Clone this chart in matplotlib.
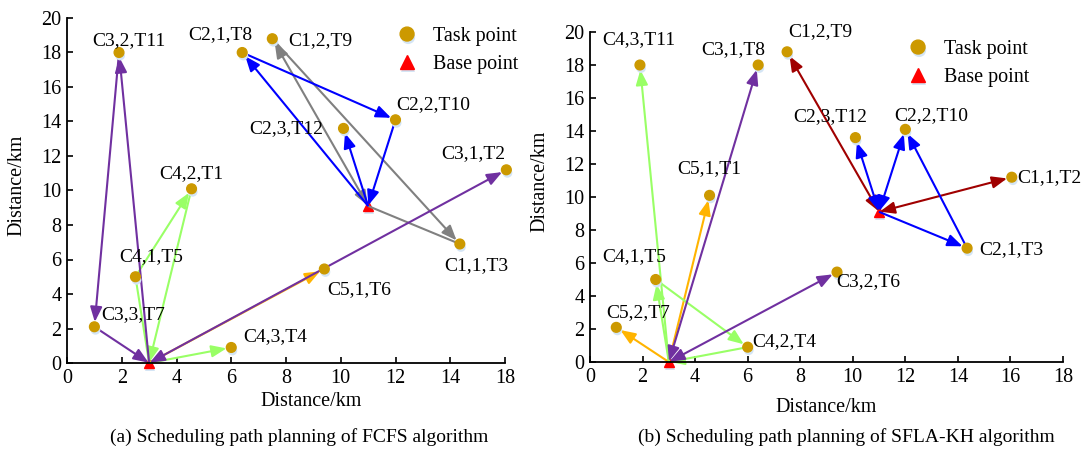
import matplotlib
matplotlib.use('Agg')
import matplotlib.pyplot as plt
import matplotlib.patheffects as pe
from matplotlib.lines import Line2D

plt.rcParams['font.family'] = ['Liberation Serif', 'DejaVu Serif']
plt.rcParams['font.size'] = 14

# ---------------- data ----------------
task_ids = ['T1', 'T2', 'T3', 'T4', 'T5', 'T6', 'T7', 'T8', 'T9', 'T10', 'T11', 'T12']
task_x = [4.55, 16.05, 14.35, 6.0, 2.5, 9.4, 1.0, 6.4, 7.5, 12.0, 1.9, 10.1]
task_y = [10.1, 11.2, 6.9, 0.9, 5.0, 5.45, 2.1, 18.0, 18.8, 14.1, 18.0, 13.6]
base_ids = ['B1', 'B2']
base_x = [3.0, 11.0]
base_y = [0.0, 9.1]

labels_fcfs = ['C4,2,T1', 'C3,1,T2', 'C1,1,T3', 'C4,3,T4', 'C4,1,T5', 'C5,1,T6',
               'C3,3,T7', 'C2,1,T8', 'C1,2,T9', 'C2,2,T10', 'C3,2,T11', 'C2,3,T12']
labels_sfla = ['C5,1,T1', 'C1,1,T2', 'C2,1,T3', 'C4,2,T4', 'C4,1,T5', 'C3,2,T6',
               'C5,2,T7', 'C3,1,T8', 'C1,2,T9', 'C2,2,T10', 'C4,3,T11', 'C2,3,T12']

# edges: (from, to, head type)  '>' one head, '<>' both heads, '-' none
routes_fcfs = {
    'C5': [('B1', 'T6', '>')],
    'C1': [('B2', 'T9', '<>'), ('T9', 'T3', '>'), ('B2', 'T3', '-')],
    'C2': [('B2', 'T8', '>'), ('T8', 'T10', '>'), ('T10', 'B2', '>'), ('B2', 'T12', '>')],
    'C4': [('T5', 'T1', '>'), ('T1', 'B1', '>'), ('B1', 'T5', '-'), ('B1', 'T4', '>')],
    'C3': [('B1', 'T2', '<>'), ('B1', 'T11', '>'), ('T11', 'T7', '>'), ('T7', 'B1', '>')],
}
routes_sfla = {
    'C1': [('B2', 'T9', '<>'), ('B2', 'T2', '<>')],
    'C2': [('B2', 'T12', '<>'), ('B2', 'T10', '<>'), ('B2', 'T3', '>'), ('T3', 'T10', '>')],
    'C5': [('B1', 'T1', '>'), ('B1', 'T7', '>')],
    'C4': [('B1', 'T11', '>'), ('B1', 'T5', '>'), ('T5', 'T4', '>'), ('T4', 'B1', '>')],
    'C3': [('B1', 'T8', '<>'), ('B1', 'T6', '<>')],
}

# ---------------- styles / layout ----------------
colors_fcfs = {'C1': '#808080', 'C2': '#0000ff', 'C3': '#7030a0', 'C4': '#99ff66', 'C5': '#ffb400'}
colors_sfla = {'C1': '#a00000', 'C2': '#0000ff', 'C3': '#7030a0', 'C4': '#99ff66', 'C5': '#ffb400'}

# label offsets (points) and alignment
off_fcfs = {'T11': (7, 8.6, 'center'), 'T8': (-16, 13, 'center'), 'T9': (11.5, -1.5, 'left'),
            'T10': (0.7, 10.8, 'left'), 'T12': (-14.4, 0, 'right'), 'T2': (-0.7, 11.5, 'right'),
            'T1': (0, 11.2, 'center'), 'T5': (11.5, 14.4, 'center'), 'T7': (4.8, 8.9, 'left'),
            'T4': (8.4, 7.9, 'left'), 'T6': (1.9, -14.9, 'left'), 'T3': (12.2, -15.6, 'center')}
off_sfla = {'T11': (-0.7, 18.5, 'center'), 'T8': (5.3, 10.8, 'right'), 'T9': (0.9, 14.9, 'left'),
            'T12': (-17.8, 14.9, 'center'), 'T10': (18.7, 9.6, 'center'), 'T2': (3.6, 0, 'left'),
            'T3': (8.9, -0.7, 'left'), 'T6': (-0.9, -6.5, 'left'), 'T1': (0, 19.2, 'center'),
            'T5': (-15.5, 16.3, 'center'), 'T7': (15.8, 10.6, 'center'), 'T4': (3.3, 4.3, 'left')}

W, H = 1086, 450
fig = plt.figure(figsize=(W / 100, H / 100), dpi=100)
axL = fig.add_axes([67 / W, 1 - 363 / H, 438 / W, 345 / H])
axR = fig.add_axes([590 / W, 1 - 362 / H, 473 / W, 330 / H])

shadow = [pe.SimplePatchShadow(offset=(0.8, -2.2), shadow_rgbFace='#d4e5f5', alpha=1.0), pe.Normal()]

coords = {}
for n, x, y in zip(task_ids, task_x, task_y):
    coords[n] = (x, y)
for n, x, y in zip(base_ids, base_x, base_y):
    coords[n] = (x, y)


def draw_edge(ax, a, b, color, kind):
    head = 'head_length=0.5,head_width=0.2'
    style = {'>': '-|>,' + head, '<>': '<|-|>,' + head, '-': '-'}[kind]
    sA = 0.5 if a.startswith('B') else 3.5
    sB = 0.5 if b.startswith('B') else 3.5
    ax.annotate('', xy=coords[b], xytext=coords[a], xycoords='data', textcoords='data',
                arrowprops=dict(arrowstyle=style, color=color, lw=1.5, mutation_scale=18,
                                shrinkA=sA, shrinkB=sB),
                annotation_clip=False, zorder=2)


def panel(ax, routes, colors, labels, offs, xmax, xticklabels):
    ax.set_xlim(0, xmax)
    ax.set_ylim(0, 20)
    for side in ('top', 'right'):
        ax.spines[side].set_visible(False)
    for side in ('left', 'bottom'):
        ax.spines[side].set_linewidth(1.3)
    ax.set_xticks(range(0, xmax + 1, 2))
    ax.set_xticklabels(xticklabels)
    ax.set_yticks(range(0, 21, 2))
    ax.tick_params(direction='in', length=4, width=1.2, labelsize=14.5, pad=4)
    ax.patch.set_alpha(0)

    ax.plot(base_x, base_y, '^', color='red', ms=7, zorder=1.5, clip_on=False,
            path_effects=shadow, linestyle='none')
    for veh, edges in routes.items():
        for a, b, k in edges:
            draw_edge(ax, a, b, colors[veh], k)
    ax.plot(task_x, task_y, 'o', color='#cc9900', ms=7, zorder=3, clip_on=False,
            path_effects=shadow, linestyle='none')
    for n, lab in zip(task_ids, labels):
        dx, dy, ha = offs[n]
        ax.annotate(lab, xy=coords[n], xytext=(dx, dy), textcoords='offset points',
                    ha=ha, va='center', fontsize=14, annotation_clip=False, zorder=4)


panel(axL, routes_fcfs, colors_fcfs, labels_fcfs, off_fcfs, 16,
      ['0', '2', '4', '6', '8', '10', '12', '14', '18'])
panel(axR, routes_sfla, colors_sfla, labels_sfla, off_sfla, 18,
      [str(v) for v in range(0, 19, 2)])

handles = [Line2D([], [], marker='o', color='#cc9900', ms=10, linestyle='none', path_effects=shadow),
           Line2D([], [], marker='^', color='red', ms=10, linestyle='none', path_effects=shadow)]
for ax, (lx, ly) in ((axL, (397, 27)), (axR, (908, 40))):
    ax.legend(handles, ['Task point', 'Base point'], loc='upper left',
              bbox_to_anchor=(lx / W, 1 - ly / H), bbox_transform=fig.transFigure,
              frameon=False, fontsize=14.5, handlelength=1.0, handletextpad=0.8,
              borderpad=0, borderaxespad=0, labelspacing=0.45)

fig.text(17 / W, 1 - 185 / H, 'Distance/km', rotation=90, ha='center', va='center', fontsize=14.5)
fig.text(540 / W, 1 - 181 / H, 'Distance/km', rotation=90, ha='center', va='center', fontsize=14.5)
fig.text(311 / W, 1 - 402 / H, 'Distance/km', ha='center', va='center', fontsize=14.5)
fig.text(826 / W, 1 - 408 / H, 'Distance/km', ha='center', va='center', fontsize=14.5)
fig.text(299 / W, 1 - 437 / H, '(a) Scheduling path planning of FCFS algorithm',
         ha='center', va='center', fontsize=14)
fig.text(846 / W, 1 - 437 / H, '(b) Scheduling path planning of SFLA-KH algorithm',
         ha='center', va='center', fontsize=14)

fig.savefig('out.png', dpi=100, facecolor='white')
